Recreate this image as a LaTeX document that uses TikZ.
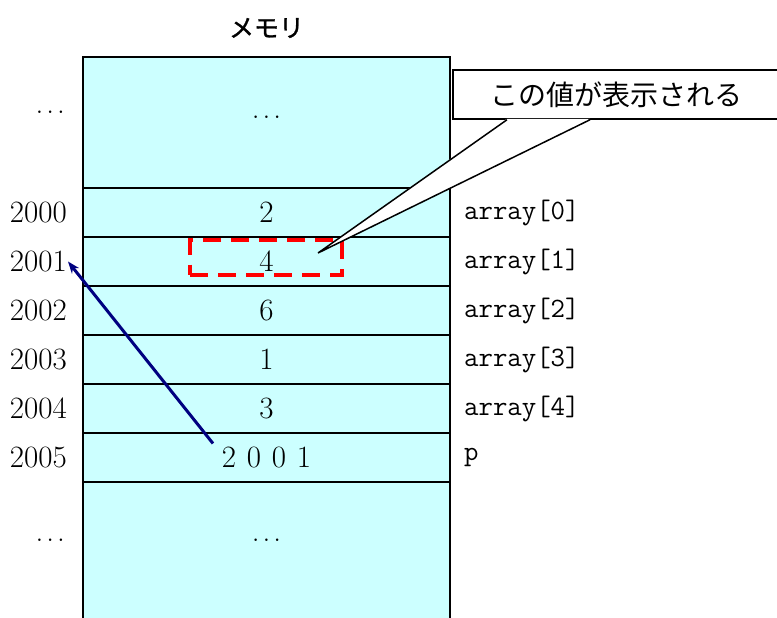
\documentclass[tikz,border=0pt]{standalone}
\usepackage{fontspec}
\usepackage{xcolor}
\usepackage{tikz}
\usetikzlibrary{arrows.meta, positioning}
\newfontfamily\jpfont{Noto Sans CJK JP}
\newfontfamily\jptitle{Noto Sans CJK JP}[FakeBold=1.2]
\definecolor{memcyan}{RGB}{204,255,255}
\definecolor{ptrnavy}{RGB}{0,0,128}
\definecolor{markred}{RGB}{255,0,0}
\newcommand{\numfont}{\fontsize{31}{33}\selectfont}
\newcommand{\fw}[1]{\makebox[25pt]{#1}}
\newcommand{\tdots}{.\kern3pt.\kern3pt.}
\tikzset{
  cell/.style={rectangle, draw=black, fill=memcyan, minimum width=367pt,
    minimum height=49pt, inner sep=0pt, outer sep=0pt, line width=1.5pt,
    font=\numfont},
  addr/.style={anchor=east, inner sep=1pt, font=\numfont},
  varname/.style={anchor=west, inner sep=0pt,
    font=\ttfamily\fontsize{28}{30}\selectfont},
  notebox/.style={rectangle, draw=black, fill=white, line width=1.5pt,
    anchor=west, minimum height=49pt, text width=300pt, align=left,
    inner xsep=38pt, font=\jpfont\fontsize{28}{30}\selectfont},
  hilite/.style={draw=markred, line width=4pt, dash pattern=on 18pt off 10pt,
    minimum width=152pt, minimum height=35pt, inner sep=0pt},
  arrow/.style={-{Stealth[length=12pt, width=9pt]}, line width=3pt, color=ptrnavy},
  line/.style={line width=1.5pt, color=black}
}

\begin{document}
\begin{tikzpicture}[x=1pt, y=-1pt]
  \clip (0,0) rectangle (777,618);

  % Title
  \node[font=\jptitle\fontsize{25}{27}\selectfont] (title) at (266.5,28) {メモリ};

  % Memory cells
  \node[cell, minimum height=131pt] (ctop) at (266.5,122.5) {};
  \node[cell] (c0) at (266.5,212.5) {2};
  \node[cell] (c1) at (266.5,261.5) {4};
  \node[cell] (c2) at (266.5,310.5) {6};
  \node[cell] (c3) at (266.5,359.5) {1};
  \node[cell] (c4) at (266.5,408.5) {3};
  \node[cell] (c5) at (266.5,457.5) {};
  \node[cell, minimum height=158pt] (cbot) at (266.5,561) {};
  \node[font=\numfont] (pval) at (c5.center) {\fw{2}\fw{0}\fw{0}\fw{1}};
  \node[font=\numfont] (dtop) at (266.5,117) {\tdots};
  \node[font=\numfont] (dbot) at (266.5,540) {\tdots};

  % Addresses
  \node[addr] (atop) at (66,112) {\tdots};
  \node[addr] (a0) at (68,212.5) {2000};
  \node[addr] (a1) at (68,261.5) {2001};
  \node[addr] (a2) at (68,310.5) {2002};
  \node[addr] (a3) at (68,359.5) {2003};
  \node[addr] (a4) at (68,408.5) {2004};
  \node[addr] (a5) at (68,457.5) {2005};
  \node[addr] (abot) at (66,540) {\tdots};

  % Variable names
  \node[varname] (v0) at (464,212.5) {array[0]};
  \node[varname] (v1) at (464,261.5) {array[1]};
  \node[varname] (v2) at (464,310.5) {array[2]};
  \node[varname] (v3) at (464,359.5) {array[3]};
  \node[varname] (v4) at (464,408.5) {array[4]};
  \node[varname] (v5) at (464,457.5) {p};

  % Highlight of array[1]
  \node[hilite] (mark) at (266,257) {};

  % Callout
  \node[notebox] (note) at (452,94.5) {この値が表示される};
  \coordinate (tip) at ([xshift=51.5pt, yshift=8.5pt]c1.center);
  \fill[white] ([xshift=55pt, yshift=1pt]note.south west) -- (tip)
    -- ([xshift=138pt, yshift=1pt]note.south west) -- cycle;
  \draw[line] ([xshift=55pt]note.south west) -- (tip)
    -- ([xshift=138pt]note.south west);

  % Pointer p
  \draw[arrow] (pval.north west) -- (a1.east);
\end{tikzpicture}
\end{document}
